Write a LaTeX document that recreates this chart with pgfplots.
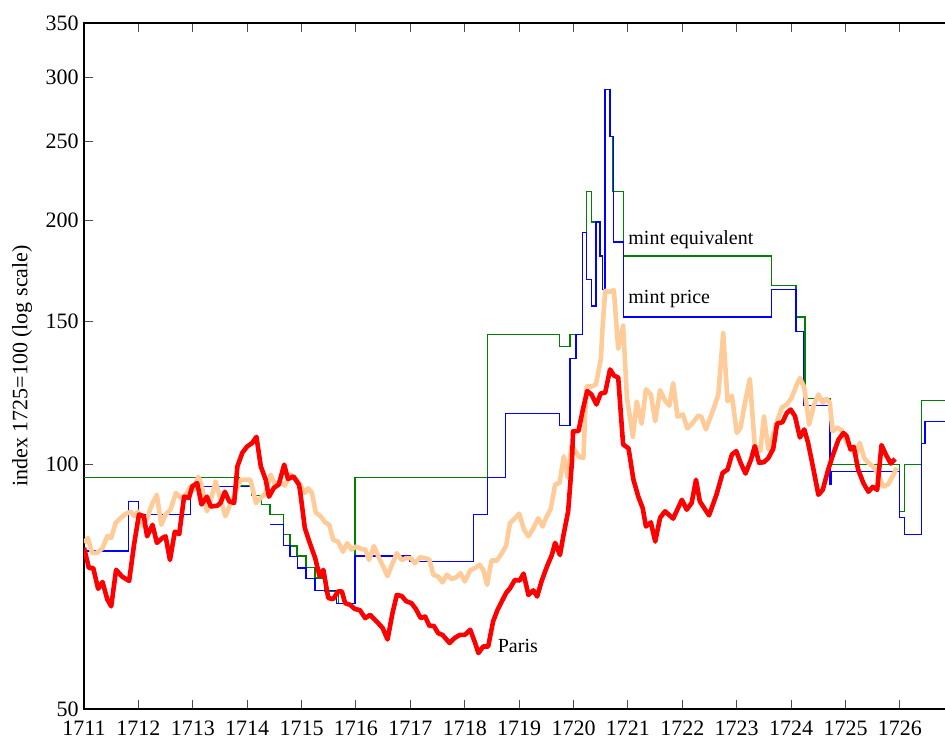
\documentclass[border=0pt]{standalone}
\usepackage{fontspec}
\setmainfont{Liberation Serif}
\usepackage{pgfplots}
\pgfplotsset{compat=1.18}
\definecolor{mintgreen}{RGB}{0,128,0}
\definecolor{peach}{RGB}{255,204,153}
\begin{document}
\begin{tikzpicture}
\begin{axis}[
  scale only axis,
  width=435.2pt, height=343pt,
  xmin=1711, xmax=1727,
  ymode=log, ymin=50, ymax=350,
  xtick={1711,1712,...,1726},
  ytick={50,100,150,200,250,300,350},
  yticklabels={50,100,150,200,250,300,350},
  yminorticks=false, xminorticks=false,
  /pgf/number format/1000 sep={},
  /pgf/number format/assume math mode=true,
  tick label style={font=\fontsize{11}{13}\selectfont},
  xticklabel style={yshift=-2.6pt},
  yticklabel style={xshift=0.8pt},
  ylabel={index 1725=100 (log scale)},
  ylabel style={font=\fontsize{11}{13}\selectfont, at={(axis description cs:-0.0712,0.5)}, anchor=center},
  axis line style={line width=0.6pt},
  major tick length=4.5pt,
  tick style={line width=0.5pt, black!70},
  unbounded coords=jump,
  clip=true,
]
% mint equivalent (green)
\addplot[const plot mark left, mintgreen, line width=0.6pt] coordinates {
(1711,96.5) (1713.849,94.2) (1714.083,91.6) (1714.267,89.3) (1714.419,86.8)
(1714.664,82.0) (1714.787,79.4) (1714.915,77.2) (1715.081,74.7) (1715.246,72.5)
(1715.430,69.8) (1715.675,67.5) (1715.982,96.4) (1718.414,144.5) (1719.74,139.8)
(1719.934,144.7) (1720.167,193.2) (1720.241,217.0) (1720.333,199.0) (1720.485,180.7)
(1720.535,164.4) (1720.577,289.6) (1720.669,253.4) (1720.712,217.0) (1720.914,180.7)
(1723.641,166.3) (1724.088,152.0) (1724.254,120.5) (1724.713,100.0) (1725.987,87.6)
(1726.079,100.0) (1726.399,120.0) (1727.0,120.0)
};
% mint price (blue)
\addplot[const plot mark left, blue, line width=0.6pt] coordinates {
(1711,78.3) (1711.815,90.1) (1711.999,86.8) (1712.96,94.0) (1714.064,94.0) (1714.07,nan)
(1714.419,84.3) (1714.664,79.5) (1714.787,77.1) (1714.929,74.6) (1715.081,72.4)
(1715.246,69.9) (1715.643,67.5) (1715.982,77.2) (1716.993,76.0) (1718.156,86.8)
(1718.414,96.4) (1718.752,115.6) (1719.737,111.8) (1719.934,135.0) (1720.044,144.7)
(1720.167,193.2) (1720.241,169.2) (1720.333,156.8) (1720.412,199.0) (1720.485,180.7)
(1720.535,164.4) (1720.577,289.6) (1720.669,253.4) (1720.73,188.1) (1720.914,152.0)
(1723.641,164.4) (1724.088,145.8) (1724.222,118.3) (1724.713,94.5) (1724.74,98.1)
(1725.987,86.0) (1726.079,82.0) (1726.399,106.1) (1726.46,113.1) (1727.0,113.1)
};
% orange series
\addplot[peach, line width=2.3pt, line join=round] coordinates {
(1711.00,80.1) (1711.07,81.2) (1711.15,77.8) (1711.24,77.9) (1711.34,78.9) (1711.43,81.7)
(1711.50,81.2) (1711.58,84.7) (1711.67,85.9) (1711.77,87.0) (1711.86,87.5) (1711.92,86.4)
(1711.99,87.5) (1712.09,83.9) (1712.16,85.9) (1712.26,89.7) (1712.34,91.8) (1712.42,84.3)
(1712.50,86.8) (1712.59,88.0) (1712.69,92.3) (1712.78,91.0) (1712.87,91.8) (1712.96,94.0)
(1713.02,93.1) (1713.10,96.6) (1713.16,94.5) (1713.26,87.6) (1713.33,90.5) (1713.42,95.3)
(1713.51,90.5) (1713.60,86.4) (1713.70,89.7) (1713.79,92.6) (1713.88,95.8) (1713.97,95.8)
(1714.06,95.8) (1714.16,89.7) (1714.25,91.0) (1714.34,92.3) (1714.43,97.2) (1714.51,94.5)
(1714.60,95.3) (1714.69,94.2) (1714.79,97.2) (1714.88,96.4) (1714.97,94.5) (1715.06,92.3)
(1715.12,93.5) (1715.19,92.3) (1715.26,87.3) (1715.35,86.4) (1715.43,84.9) (1715.51,84.3)
(1715.58,80.8) (1715.67,80.4) (1715.76,78.1) (1715.84,80.0) (1715.92,78.6) (1716.00,79.3)
(1716.10,78.7) (1716.17,78.6) (1716.24,76.3) (1716.33,79.4) (1716.41,77.1) (1716.50,74.9)
(1716.58,72.9) (1716.66,75.3) (1716.75,77.8) (1716.84,76.3) (1716.92,76.7) (1717.01,76.7)
(1717.08,75.6) (1717.18,76.9) (1717.27,76.7) (1717.35,76.4) (1717.42,73.2) (1717.51,72.8)
(1717.59,71.6) (1717.67,73.2) (1717.76,72.3) (1717.85,72.7) (1717.92,73.5) (1718.00,71.8)
(1718.10,74.1) (1718.19,74.6) (1718.27,75.3) (1718.34,74.2) (1718.41,71.1) (1718.49,76.2)
(1718.59,76.2) (1718.68,77.8) (1718.76,79.5) (1718.83,84.7) (1718.92,85.9) (1719.00,87.0)
(1719.09,83.1) (1719.17,81.6) (1719.26,83.5) (1719.35,85.9) (1719.43,83.9) (1719.49,85.9)
(1719.58,88.2) (1719.66,94.5) (1719.74,94.9) (1719.82,102.4) (1719.89,96.4) (1719.96,105.4)
(1720.03,104.0) (1720.10,102.2) (1720.18,101.9) (1720.21,114.6) (1720.24,124.8) (1720.33,124.8)
(1720.41,125.5) (1720.50,134.8) (1720.53,146.8) (1720.58,163.7) (1720.66,163.2) (1720.74,164.0)
(1720.82,138.9) (1720.91,148.3) (1720.98,120.9) (1721.09,108.2) (1721.16,119.6) (1721.25,112.3)
(1721.33,123.8) (1721.42,122.0) (1721.50,113.1) (1721.59,123.5) (1721.68,119.9) (1721.76,118.2)
(1721.83,126.0) (1721.91,114.6) (1722.01,115.3) (1722.09,110.8) (1722.19,112.6) (1722.29,114.9)
(1722.35,114.5) (1722.43,110.5) (1722.52,114.6) (1722.60,118.6) (1722.66,122.0) (1722.75,145.2)
(1722.83,119.7) (1722.91,121.6) (1723.00,109.4) (1723.07,111.1) (1723.15,119.2) (1723.24,127.5)
(1723.33,105.4) (1723.43,103.9) (1723.50,114.6) (1723.58,104.4) (1723.67,108.9) (1723.74,113.1)
(1723.83,117.6) (1723.92,118.6) (1724.01,120.9) (1724.09,124.9) (1724.16,127.9) (1724.24,124.4)
(1724.33,112.0) (1724.41,118.0) (1724.50,122.0) (1724.58,119.2) (1724.65,120.5) (1724.71,119.2)
(1724.76,109.9) (1724.85,111.1) (1724.93,110.2) (1725.02,106.6) (1725.11,104.7) (1725.19,102.7)
(1725.26,106.4) (1725.34,101.9) (1725.42,100.5) (1725.51,99.4) (1725.60,97.2) (1725.69,94.0)
(1725.78,94.5) (1725.88,97.2) (1725.94,99.1)
};
% Paris (red)
\addplot[red, line width=2.3pt, line join=round] coordinates {
(1711.00,79.0) (1711.09,74.6) (1711.17,74.6) (1711.26,70.3) (1711.34,71.7) (1711.43,68.2)
(1711.50,66.9) (1711.59,74.2) (1711.70,72.8) (1711.83,71.9) (1711.92,79.7) (1712.01,86.8)
(1712.10,86.4) (1712.16,81.6) (1712.26,84.3) (1712.34,80.1) (1712.44,81.2) (1712.50,81.6)
(1712.58,76.3) (1712.67,82.7) (1712.75,82.1) (1712.84,91.3) (1712.93,91.0) (1712.99,94.0)
(1713.08,94.9) (1713.16,89.3) (1713.26,91.3) (1713.33,88.8) (1713.45,89.0) (1713.51,89.7)
(1713.59,92.6) (1713.67,90.1) (1713.76,89.7) (1713.82,99.5) (1713.91,103.4) (1714.00,105.3)
(1714.09,106.3) (1714.17,108.2) (1714.25,99.5) (1714.34,95.8) (1714.40,91.3) (1714.49,93.6)
(1714.58,94.5) (1714.68,100.0) (1714.75,96.0) (1714.85,96.7) (1714.95,94.5) (1714.97,93.1)
(1715.06,83.5) (1715.15,80.1) (1715.25,76.7) (1715.33,72.9) (1715.40,74.2) (1715.49,68.5)
(1715.58,68.3) (1715.67,69.8) (1715.74,69.8) (1715.80,67.5) (1715.89,67.2) (1715.98,66.4)
(1716.07,66.2) (1716.17,64.7) (1716.26,65.3) (1716.38,64.1) (1716.49,62.9) (1716.58,60.9)
(1716.67,65.6) (1716.75,69.1) (1716.84,68.9) (1716.92,67.9) (1717.02,67.5) (1717.10,66.4)
(1717.19,64.7) (1717.27,65.0) (1717.35,63.3) (1717.43,63.3) (1717.51,62.0) (1717.59,61.7)
(1717.72,60.3) (1717.82,61.2) (1717.91,61.7) (1718.00,61.7) (1718.10,62.6) (1718.19,60.3)
(1718.25,58.6) (1718.34,59.7) (1718.43,59.7) (1718.52,64.1) (1718.60,66.2) (1718.76,69.5)
(1718.83,70.4) (1718.92,72.1) (1719.01,72.0) (1719.08,73.4) (1719.17,69.1) (1719.26,70.0)
(1719.33,68.8) (1719.41,71.8) (1719.51,74.9) (1719.60,77.4) (1719.66,80.1) (1719.75,77.4)
(1719.81,81.6) (1719.90,87.6) (1719.97,100.9) (1719.99,109.9) (1720.09,110.0) (1720.17,116.9)
(1720.25,123.2) (1720.33,122.0) (1720.42,118.6) (1720.50,122.4) (1720.58,122.6) (1720.67,131.0)
(1720.74,128.8) (1720.82,128.0) (1720.91,105.9) (1721.01,104.7) (1721.10,95.8) (1721.19,91.3)
(1721.27,88.4) (1721.33,83.9) (1721.42,84.9) (1721.50,80.4) (1721.59,86.0) (1721.68,87.6)
(1721.83,85.8) (1721.99,90.5) (1722.08,88.0) (1722.17,89.7) (1722.25,95.8) (1722.32,90.1)
(1722.42,88.0) (1722.49,86.6) (1722.63,92.0) (1722.74,97.7) (1722.83,98.6) (1722.91,102.9)
(1722.99,103.9) (1723.07,100.5) (1723.16,97.5) (1723.26,101.4) (1723.33,105.4) (1723.41,100.5)
(1723.50,100.7) (1723.58,101.9) (1723.67,104.6) (1723.74,112.3) (1723.84,112.8) (1723.92,115.8)
(1723.99,116.9) (1724.07,114.7) (1724.16,108.0) (1724.24,110.5) (1724.31,106.4) (1724.41,98.6)
(1724.50,91.8) (1724.58,93.1) (1724.68,98.6) (1724.77,102.9) (1724.87,107.4) (1724.96,109.4)
(1725.02,108.4) (1725.09,104.4) (1725.15,105.2) (1725.23,98.6) (1725.33,94.8) (1725.42,92.6)
(1725.50,93.9) (1725.58,93.1) (1725.66,105.7) (1725.74,102.9) (1725.83,100.3) (1725.91,101.6)
};
\node[anchor=west, inner sep=0pt, font=\fontsize{10}{12}\selectfont] at (axis cs:1721.0,189.5) {mint equivalent};
\node[anchor=west, inner sep=0pt, font=\fontsize{10}{12}\selectfont] at (axis cs:1721.0,159.8) {mint price};
\node[anchor=west, inner sep=0pt, font=\fontsize{10}{12}\selectfont] at (axis cs:1718.60,59.8) {Paris};
\end{axis}
\pgfresetboundingbox
\useasboundingbox (-42pt,-15.5pt) rectangle (430.5pt,354.5pt);
\end{tikzpicture}
\end{document}
